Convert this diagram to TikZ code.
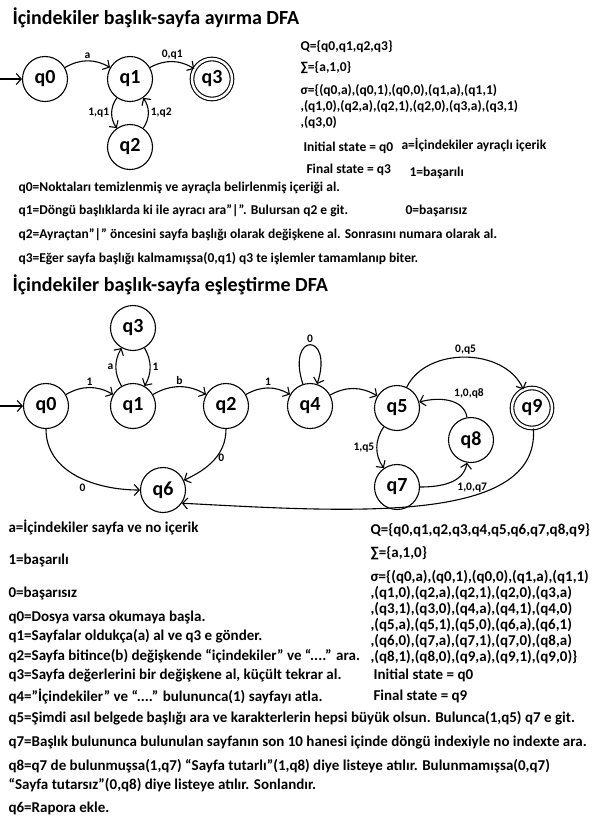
\documentclass[tikz,border=0pt]{standalone}
\usepackage{fontspec}
\setmainfont{Carlito}
\usetikzlibrary{arrows.meta, positioning}

\begin{document}
\begin{tikzpicture}[x=1pt, y=-1pt, line width=1.1pt,
    every node/.style={font=\bfseries\fontsize{13.5}{15}\selectfont},
    state/.style={circle, draw, minimum size=45pt, inner sep=0pt, font=\bfseries\fontsize{20}{22}\selectfont},
    accept/.style={state, double, double distance=2.5pt, minimum size=40pt},
    edge/.style={-{Straight Barb[length=5pt, width=11pt]}},
    lbl/.style={font=\bfseries\fontsize{11.5}{13}\selectfont, inner sep=2pt},
    txt/.style={anchor=west, inner sep=0pt},
    bigtxt/.style={txt, font=\bfseries\fontsize{15}{17}\selectfont},
    title/.style={anchor=west, inner sep=0pt, font=\bfseries\fontsize{20}{22}\selectfont}]

    \useasboundingbox (0,0) rectangle (596,823);

    % --- TOP: ayırma DFA ---
    \node[title] (title1) at (12,18) {İçindekiler başlık-sayfa ayırma DFA};

    \node[state] (a0) at (45,79) {q0};
    \node[state] (a1) at (130,79) {q1};
    \node[accept] (a3) at (212,79) {q3};
    \node[state] (a2) at (130,147) {q2};

    \coordinate (a0in) at (0,79);
    \draw[edge] (a0in) -- (a0);
    \draw[edge] (a0) to[bend left=30] node[lbl, above] {a} (a1);
    \draw[edge] (a1) to[bend left=30] node[lbl, above] {0,q1} (a3);
    \draw[edge] (a1) to[bend right=35] node[lbl, left] {1,q1} (a2);
    \draw[edge] (a2) to[bend right=35] node[lbl, right] {1,q2} (a1);

    % sets and legend
    \node[txt] (aQ) at (300,47) {Q=\{q0,q1,q2,q3\}};
    \node[txt] (aS) at (300,68) {∑=\{a,1,0\}};
    \node[txt] (aT1) at (300,91) {σ=\{(q0,a),(q0,1),(q0,0),(q1,a),(q1,1)};
    \node[txt] (aT2) at (300,107) {,(q1,0),(q2,a),(q2,1),(q2,0),(q3,a),(q3,1)};
    \node[txt] (aT3) at (300,123) {,(q3,0)};
    \node[txt] (aInit) at (303,148) {Initial state = q0};
    \node[txt] (aFin) at (306,170) {Final state = q3};
    \node[txt] (aLa) at (401,145) {a=İçindekiler ayraçlı içerik};
    \node[txt] (aL1) at (409,173) {1=başarılı};
    \node[txt] (aL0) at (405,211) {0=başarısız};

    % state notes
    \node[txt] (aN0) at (18,188) {q0=Noktaları temizlenmiş ve ayraçla belirlenmiş içeriği al.};
    \node[txt] (aN1) at (18,211) {q1=Döngü başlıklarda ki ile ayracı ara”|”. Bulursan q2 e git.};
    \node[txt] (aN2) at (18,235) {q2=Ayraçtan”|” öncesini sayfa başlığı olarak değişkene al. Sonrasını numara olarak al.};
    \node[txt] (aN3) at (18,259) {q3=Eğer sayfa başlığı kalmamışsa(0,q1) q3 te işlemler tamamlanıp biter.};

    % --- BOTTOM: eşleştirme DFA ---
    \node[title] (title2) at (12,285) {İçindekiler başlık-sayfa eşleştirme DFA};

    \node[state] (b0) at (46,406) {q0};
    \node[state] (b3) at (133,328) {q3};
    \node[state] (b1) at (133,406) {q1};
    \node[state] (b2) at (226,406) {q2};
    \node[state] (b4) at (310,406) {q4};
    \node[state] (b5) at (397,408) {q5};
    \node[accept] (b9) at (532,408) {q9};
    \node[state] (b8) at (471,440) {q8};
    \node[state] (b7) at (397,487) {q7};
    \node[state] (b6) at (163,490) {q6};

    \coordinate (b0in) at (0,406);
    \draw[edge] (b0in) -- (b0);
    \draw[edge] (b0) to[bend left=30] node[lbl, above] {1} (b1);
    \draw[edge] (b1) to[bend left=30] node[lbl, left] {a} (b3);
    \draw[edge] (b3) to[bend left=30] node[lbl, right] {1} (b1);
    \draw[edge] (b1) to[bend left=30] node[lbl, above] {b} (b2);
    \draw[edge] (b2) to[bend left=30] node[lbl, above] {1} (b4);
    \draw[edge] (b4) to[out=108, in=72, looseness=1, min distance=55pt] node[lbl, above, pos=0.5] {0} (b4);
    \draw[edge] (b4) to[bend left=30] (b5);
    \draw[edge] (b5) to[bend left=65] node[lbl, above] {0,q5} (b9);
    \draw[edge] (b8) to[out=100, in=15] node[lbl, above right, pos=0.45] {1,0,q8} (b5);
    \draw[edge] (b5) to[bend right=35] node[lbl, left] {1,q5} (b7);
    \draw[edge] (b7) to[out=0, in=-100] node[lbl, below right, pos=0.6] {1,0,q7} (b8);
    \draw[edge] (b0) to[out=-90, in=180] node[lbl, below left, pos=0.6] {0} (b6);
    \draw[edge] (b2) to[out=-90, in=25] node[lbl, right, pos=0.45] {0} (b6);
    \draw[edge] (b9) .. controls (540,525) and (350,512) .. (b6.-35);

    % legend
    \node[bigtxt] (bLa) at (8,527) {a=İçindekiler sayfa ve no içerik};
    \node[bigtxt] (bL1) at (8,560) {1=başarılı};
    \node[bigtxt] (bL0) at (8,593) {0=başarısız};

    % state notes
    \node[bigtxt] (bN0) at (8,617) {q0=Dosya varsa okumaya başla.};
    \node[bigtxt] (bN1) at (8,636) {q1=Sayfalar oldukça(a) al ve q3 e gönder.};
    \node[bigtxt] (bN2) at (8,656) {q2=Sayfa bitince(b) değişkende “içindekiler” ve “....” ara.};
    \node[bigtxt] (bN3) at (8,675) {q3=Sayfa değerlerini bir değişkene al, küçült tekrar al.};
    \node[bigtxt] (bN4) at (8,696) {q4=”İçindekiler” ve “....” bulununca(1) sayfayı atla.};
    \node[bigtxt] (bN5) at (8,718) {q5=Şimdi asıl belgede başlığı ara ve karakterlerin hepsi büyük olsun. Bulunca(1,q5) q7 e git.};
    \node[bigtxt] (bN7) at (8,742) {q7=Başlık bulununca bulunulan sayfanın son 10 hanesi içinde döngü indexiyle no indexte ara.};
    \node[bigtxt] (bN8) at (8,766) {q8=q7 de bulunmuşsa(1,q7) “Sayfa tutarlı”(1,q8) diye listeye atılır. Bulunmamışsa(0,q7)};
    \node[bigtxt] (bN8b) at (8,785) {“Sayfa tutarsız”(0,q8) diye listeye atılır. Sonlandır.};
    \node[bigtxt] (bN6) at (8,808) {q6=Rapora ekle.};

    % sets
    \node[bigtxt] (bQ) at (370,530) {Q=\{q0,q1,q2,q3,q4,q5,q6,q7,q8,q9\}};
    \node[bigtxt] (bS) at (370,553) {∑=\{a,1,0\}};
    \node[bigtxt] (bT1) at (370,577) {σ=\{(q0,a),(q0,1),(q0,0),(q1,a),(q1,1)};
    \node[bigtxt] (bT2) at (370,593) {,(q1,0),(q2,a),(q2,1),(q2,0),(q3,a)};
    \node[bigtxt] (bT3) at (370,609) {,(q3,1),(q3,0),(q4,a),(q4,1),(q4,0)};
    \node[bigtxt] (bT4) at (370,625) {,(q5,a),(q5,1),(q5,0),(q6,a),(q6,1)};
    \node[bigtxt] (bT5) at (370,641) {,(q6,0),(q7,a),(q7,1),(q7,0),(q8,a)};
    \node[bigtxt] (bT6) at (370,657) {,(q8,1),(q8,0),(q9,a),(q9,1),(q9,0)\}};
    \node[bigtxt] (bInit) at (373,675) {Initial state = q0};
    \node[bigtxt] (bFin) at (373,696) {Final state = q9};

\end{tikzpicture}
\end{document}
